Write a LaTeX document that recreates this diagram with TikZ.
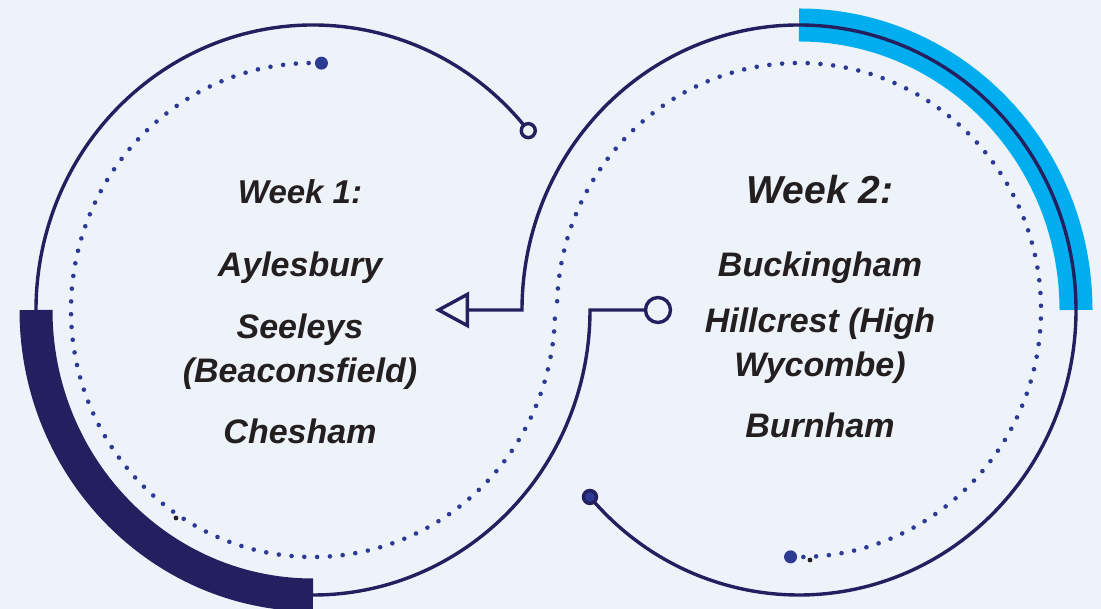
\documentclass[tikz,border=0pt]{standalone}
\usepackage{fontspec}
\setmainfont{Liberation Sans}
\usetikzlibrary{arrows.meta,calc}

\definecolor{navy}{HTML}{241F5F}
\definecolor{dotblue}{HTML}{2C3A94}
\definecolor{skyband}{HTML}{00AEEF}
\definecolor{paper}{HTML}{EEF3FA}
\definecolor{ink}{HTML}{231F20}

\tikzset{
  loop line/.style={navy, line width=3.4},
  dot trail/.style={dotblue, line width=4.6, line cap=round, dash pattern=on 0pt off 12.8pt},
  band/.style={line width=33},
  town/.style={ink, font=\fontsize{34}{44}\selectfont\bfseries\itshape, align=center, anchor=base},
  week/.style={town, font=\fontsize{#1}{40}\selectfont\bfseries\itshape},
  ring/.style={circle, draw=navy, line width=3.4, fill=paper, inner sep=0pt, minimum size=#1},
}

\begin{document}
\begin{tikzpicture}[x=1pt, y=1pt]
  \fill[paper] (0,0) rectangle (1101,609);
  \useasboundingbox (0,0) rectangle (1101,609);

  % centres of the two loops
  \coordinate (L) at (313,299);
  \coordinate (R) at (799,299);

  % thick bands under the loops
  \draw[band, navy] ($(L)+(180:277 and 285)$)
    arc[start angle=180, end angle=270, x radius=277, y radius=285];
  \draw[band, skyband] ($(R)+(0:277 and 285)$)
    arc[start angle=0, end angle=90, x radius=277, y radius=285];

  % dotted trails inside
  \draw[dot trail] ($(L)+(88:242 and 247)$)
    arc[start angle=88, end angle=360, x radius=242, y radius=247];
  \draw[dot trail] ($(R)+(268:242 and 247)$)
    arc[start angle=268, end angle=540, x radius=242, y radius=247];
  \fill[dotblue] ($(L)+(88:242 and 247)$) circle[radius=6.5];
  \fill[dotblue] ($(R)+(268:242 and 247)$) circle[radius=6.5];
  \fill[ink] (176,91) circle[radius=2.4];
  \fill[ink] (810,49) circle[radius=2.4];

  % outer loops
  \coordinate (lend) at ($(L)+(39:277 and 285)$);
  \coordinate (rend) at ($(R)+(221:277 and 285)$);
  \coordinate (tip) at (435,299);
  \node[ring=25pt] (hub) at (658,299) {};
  \draw[loop line] (lend)
    arc[start angle=39, end angle=360, x radius=277, y radius=285] -- (hub);
  \draw[loop line, -{Triangle[open, length=34pt, width=36pt]}] (rend)
    arc[start angle=221, end angle=540, x radius=277, y radius=285] -- (tip);
  \node[ring=14pt] (lcap) at (lend) {};
  \node[ring=13pt, fill=dotblue] (rcap) at (rend) {};

  % week 1
  \node[week=33] (w1) at (300,405) {Week 1:};
  \node[town] (ayl) at (300,332) {Aylesbury};
  \node[town] (see) at (300,226) {Seeleys\\(Beaconsfield)};
  \node[town] (che) at (300,165) {Chesham};

  % week 2
  \node[week=39] (w2) at (820,405) {Week 2:};
  \node[town] (buc) at (820,332) {Buckingham};
  \node[town] (hil) at (820,232) {Hillcrest (High\\Wycombe)};
  \node[town] (bur) at (820,171) {Burnham};
\end{tikzpicture}
\end{document}
